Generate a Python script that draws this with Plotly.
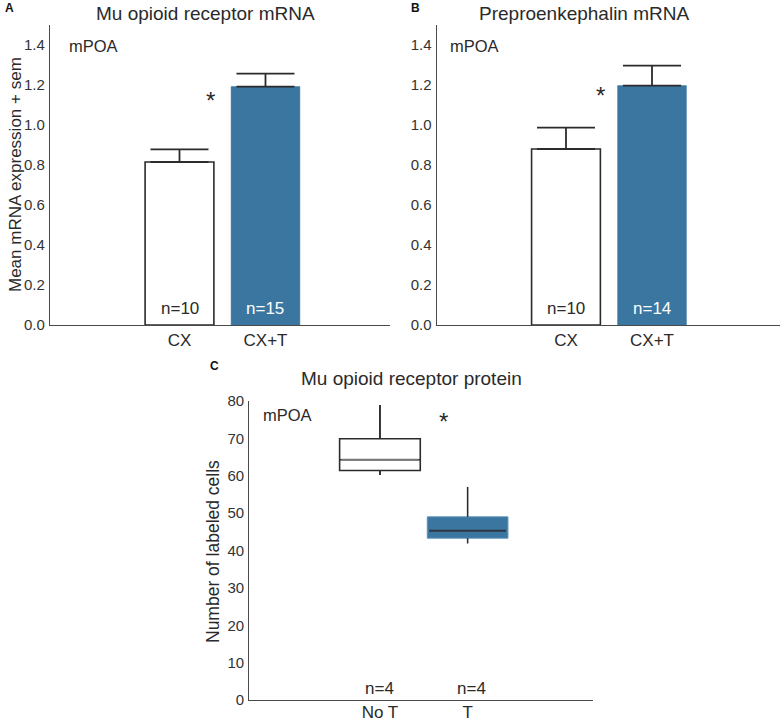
import plotly.graph_objects as go

# ---------------- data ----------------
bar_categories = ["CX", "CX+T"]
mor_mrna_mean = [0.815, 1.192]
mor_mrna_sem = [0.063, 0.065]
mor_mrna_n = ["n=10", "n=15"]

ppe_mrna_mean = [0.880, 1.197]
ppe_mrna_sem = [0.107, 0.100]
ppe_mrna_n = ["n=10", "n=14"]

box_categories = ["No T", "T"]
box_lowerfence = [60.2, 41.9]
box_q1 = [61.4, 43.3]
box_median = [64.3, 45.3]
box_q3 = [69.9, 49.0]
box_upperfence = [78.9, 57.0]
box_n = ["n=4", "n=4"]

bar_ticks = [0.0, 0.2, 0.4, 0.6, 0.8, 1.0, 1.2, 1.4]
box_ticks = [0, 10, 20, 30, 40, 50, 60, 70, 80]

# ---------------- style ----------------
W, H = 782, 721
BLUE = "#3a76a0"
DARK = "#2b2b2b"
AXC = "#4a4a4a"
TXT = "#2a2a2a"
FONT = "Liberation Sans, Arial, sans-serif"

fig = go.Figure()

xs_bar = list(range(len(bar_categories)))
xs_box = list(range(len(box_categories)))


def add_bars(means, sems, xa, ya):
    fig.add_trace(go.Bar(
        x=xs_bar, y=means, width=0.80,
        marker=dict(color=["white", BLUE],
                    line=dict(color=[DARK, BLUE], width=[1.6, 0.5])),
        error_y=dict(type="data", symmetric=False, array=sems,
                     arrayminus=[0] * len(sems), color=DARK,
                     thickness=1.8, width=29),
        xaxis=xa, yaxis=ya, showlegend=False, hoverinfo="skip"))


add_bars(mor_mrna_mean, mor_mrna_sem, "x", "y")
add_bars(ppe_mrna_mean, ppe_mrna_sem, "x2", "y2")

# box plot
BW = 0.92
box_fill = ["white", BLUE]
box_line = [DARK, "#5b93bb"]
med_col = ["#7a7a7a", "#2d3640"]
for i in xs_box:
    fig.add_trace(go.Box(
        x=[i], q1=[box_q1[i]], median=[box_median[i]], q3=[box_q3[i]],
        lowerfence=[box_lowerfence[i]], upperfence=[box_upperfence[i]],
        width=BW, whiskerwidth=0, fillcolor=box_fill[i],
        line=dict(color=box_line[i], width=1.6 if i == 0 else 1.0),
        boxpoints=False, xaxis="x3", yaxis="y3", showlegend=False,
        hoverinfo="skip"))
    # whiskers (dark)
    fig.add_trace(go.Scatter(
        x=[i, i, None, i, i],
        y=[box_q3[i], box_upperfence[i], None, box_lowerfence[i], box_q1[i]],
        mode="lines", line=dict(color=DARK, width=1.5),
        xaxis="x3", yaxis="y3", showlegend=False, hoverinfo="skip"))
    # median
    fig.add_trace(go.Scatter(
        x=[i - BW / 2 + 0.02, i + BW / 2 - 0.02],
        y=[box_median[i], box_median[i]],
        mode="lines", line=dict(color=med_col[i], width=2),
        xaxis="x3", yaxis="y3", showlegend=False, hoverinfo="skip"))


def px_x(p):
    return p / W


def px_y(p):
    return 1 - p / H


common_y = dict(showline=True, linecolor=AXC, linewidth=1.3, showgrid=False,
                zeroline=False, ticks="", tickfont=dict(size=15, color="#333"),
                ticklabelstandoff=1, automargin=False)
common_x = dict(showline=True, linecolor=AXC, linewidth=1.3, showgrid=False,
                zeroline=False, ticks="", tickfont=dict(size=17, color=TXT),
                tickmode="array", automargin=False)

fig.update_layout(
    width=W, height=H,
    margin=dict(l=0, r=0, t=0, b=0, autoexpand=False),
    paper_bgcolor="white", plot_bgcolor="white",
    font=dict(family=FONT, color=TXT),
    showlegend=False,
    xaxis=dict(domain=[px_x(50), px_x(390)], range=[-1.506, 2.448],
               tickvals=xs_bar, ticktext=bar_categories, anchor="y",
               ticklabelstandoff=-1, **common_x),
    yaxis=dict(domain=[px_y(325), px_y(25)], range=[0, 1.5],
               tickvals=bar_ticks, ticktext=[f"{v:.1f}" for v in bar_ticks],
               anchor="x", **common_y),
    xaxis2=dict(domain=[px_x(436.7), px_x(780)], range=[-1.503, 2.488],
                tickvals=xs_bar, ticktext=bar_categories, anchor="y2",
                ticklabelstandoff=-1, **common_x),
    yaxis2=dict(domain=[px_y(325), px_y(25)], range=[0, 1.5],
                tickvals=bar_ticks, ticktext=[f"{v:.1f}" for v in bar_ticks],
                anchor="x2", **common_y),
    xaxis3=dict(domain=[px_x(249.3), px_x(593)], range=[-1.49, 2.43],
                tickvals=xs_box, ticktext=box_categories, anchor="y3",
                ticklabelstandoff=-4, **common_x),
    yaxis3=dict(domain=[px_y(700), px_y(401)], range=[0, 80],
                tickvals=box_ticks, ticktext=[str(v) for v in box_ticks],
                anchor="x3", **common_y),
)

ann = []
# titles
for txt, x, y in [("Mu opioid receptor mRNA", 205, 14),
                  ("Preproenkephalin mRNA", 584, 14),
                  ("Mu opioid receptor protein", 412, 378)]:
    ann.append(dict(text=txt, x=px_x(x), y=px_y(y), xref="paper", yref="paper",
                    showarrow=False, font=dict(size=19, color=TXT),
                    xanchor="center", yanchor="middle"))
# panel letters
for txt, x, y in [("A", 3, 8), ("B", 409, 8), ("C", 208, 366)]:
    ann.append(dict(text=f"<b>{txt}</b>", x=px_x(x), y=px_y(y), xref="paper",
                    yref="paper", showarrow=False, font=dict(size=12, color="#111"),
                    xanchor="left", yanchor="middle"))
# y-axis titles
ann.append(dict(text="Mean mRNA expression + sem", x=px_x(15), y=px_y(175),
                xref="paper", yref="paper", showarrow=False, textangle=-90,
                font=dict(size=17, color=TXT), xanchor="center", yanchor="middle"))
ann.append(dict(text="Number of labeled cells", x=px_x(213), y=px_y(552),
                xref="paper", yref="paper", showarrow=False, textangle=-90,
                font=dict(size=17.5, color=TXT), xanchor="center", yanchor="middle"))
# mPOA labels
for xr, yr, x, y in [("x", "y", -1.31, 1.395), ("x2", "y2", -1.37, 1.395),
                     ("x3", "y3", -1.36, 76.2)]:
    ann.append(dict(text="mPOA", x=x, y=y, xref=xr, yref=yr, showarrow=False,
                    font=dict(size=16.5, color=TXT), xanchor="left", yanchor="middle"))
# stars
for xr, yr, x, y in [("x", "y", 0.355, 1.12), ("x2", "y2", 0.40, 1.145),
                     ("x3", "y3", 0.72, 74.6)]:
    ann.append(dict(text="*", x=x, y=y, xref=xr, yref=yr, showarrow=False,
                    font=dict(size=24, color=TXT), xanchor="center", yanchor="middle"))
# n labels
for xr, yr, labels in [("x", "y", mor_mrna_n), ("x2", "y2", ppe_mrna_n)]:
    for i, lab in enumerate(labels):
        ann.append(dict(text=lab, x=i, y=0.085, xref=xr, yref=yr, showarrow=False,
                        font=dict(size=17, color=TXT if i == 0 else "white"),
                        xanchor="center", yanchor="middle"))
for i, lab in enumerate(box_n):
    ann.append(dict(text=lab, x=i + 0.04 * i, y=3.0, xref="x3", yref="y3",
                    showarrow=False, font=dict(size=17, color=TXT),
                    xanchor="center", yanchor="middle"))

fig.update_layout(annotations=ann)
fig.write_html(
    "out.html",
    config={"displayModeBar": False},
    post_script="document.body.style.margin='0';document.body.style.overflow='hidden';",
)
